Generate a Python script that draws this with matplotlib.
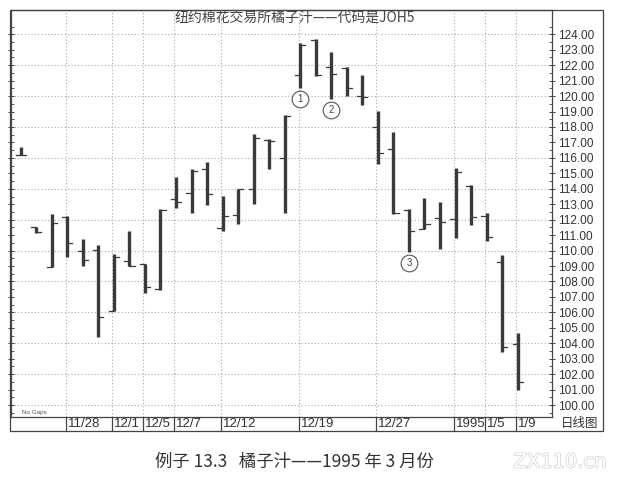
import matplotlib
matplotlib.use("Agg")
import matplotlib.pyplot as plt
from matplotlib.patches import Rectangle
from matplotlib import patheffects

# Data - one bar per trading day
opens  = [116.2, 111.5, 108.96, 112.2, 110.0, 110.04, 106.1, 109.33, 109.11, 107.5,
          113.32, 113.71, 115.26, 111.48, 112.3, 113.97, 117.16, 115.97, 121.37, 123.6,
          121.9, 121.8, 120.01, 117.98, 116.58, 112.6, 111.38, 112.09, 112.02, 114.18,
          112.24, 109.28, 103.95]
highs  = [116.73, 111.5, 112.37, 112.24, 110.75, 110.36, 109.76, 111.27, 109.11, 112.67,
          114.74, 115.28, 115.73, 113.55, 114.01, 117.55, 117.2, 118.78, 123.42, 123.7,
          122.83, 121.86, 121.37, 119.06, 117.66, 112.71, 113.39, 113.17, 115.33, 114.25,
          112.45, 109.72, 104.69]
lows   = [116.19, 111.15, 108.96, 109.57, 109.02, 104.43, 106.09, 109.0, 107.24, 107.45,
          112.74, 112.45, 112.95, 111.27, 111.7, 113.02, 115.28, 112.45, 120.5, 121.32,
          119.79, 120.01, 119.42, 115.59, 112.37, 109.93, 111.38, 110.08, 110.8, 111.66,
          110.62, 103.46, 100.98]
closes = [116.2, 111.2, 111.81, 110.47, 109.39, 105.68, 109.61, 109.0, 107.62, 112.63,
          113.13, 115.17, 113.64, 112.24, 113.97, 117.27, 117.11, 118.71, 123.31, 121.37,
          121.43, 120.5, 119.96, 116.34, 112.45, 111.27, 111.7, 111.87, 115.11, 112.16,
          110.9, 103.74, 101.48]

date_idx = [3, 6, 8, 10, 13, 18, 23, 28, 30, 32]
date_labels = ["11/28", "12/1", "12/5", "12/7", "12/12", "12/19", "12/27", "1995", "1/5", "1/9"]

marks = ["1", "2", "3"]          # circled numbers under these bars
mark_idx = [18, 20, 25]

title = "纽约棉花交易所橘子汁——代码是JOH5"
caption = "例子 13.3   橘子汁——1995 年 3 月份"

W, H = 620, 483
fig = plt.figure(figsize=(W / 100, H / 100), dpi=100)
fig.patch.set_facecolor("white")

def fx(px):
    return px / W

def fy(py):
    return 1 - py / H

narrow = ["Liberation Sans", "DejaVu Sans"]
cjk = ["Noto Sans CJK SC", "DejaVu Sans"]

# plot area: x 11..552, y 10..417 (pixels)
ax = fig.add_axes([fx(11), fy(417), fx(552 - 11), (417 - 10) / H])
ax.set_xlim(-0.625, 34.21)
ax.set_ylim(99.23, 125.57)

ink = "#3a3a3a"
grid_c = "#aaaaaa"

# grid
for v in range(100, 125, 2):
    ax.axhline(v, color=grid_c, lw=0.8, ls=(0, (1, 2)), zorder=0)
for d in date_idx:
    ax.axvline(d - 0.1, color=grid_c, lw=0.8, ls=(0, (1, 2)), zorder=0)

# OHLC bars
tk = 0.33
for i in range(len(opens)):
    ax.plot([i, i], [lows[i], highs[i]], color=ink, lw=2.4, solid_capstyle="butt", zorder=3)
    ax.plot([i - tk, i], [opens[i], opens[i]], color=ink, lw=0.9, zorder=3)
    ax.plot([i, i + tk], [closes[i], closes[i]], color=ink, lw=0.9, zorder=3)

# circled labels
for m, i in zip(marks, mark_idx):
    y = lows[i] - 0.72
    ax.plot(i, y, marker="o", ms=12, mfc="white", mec="#555555", mew=0.8, zorder=4)
    ax.text(i, y, m, ha="center", va="center", fontsize=7, color="#444444",
            family=narrow, zorder=5)

# axes / ticks
for s in ax.spines.values():
    s.set_color("#444444")
    s.set_linewidth(0.9)
ax.set_yticks(range(100, 125))
ax.set_yticks([v + 0.5 for v in range(99, 125)], minor=True)
ax.set_yticklabels(["%.2f" % v for v in range(100, 125)])
ax.tick_params(axis="y", which="major", left=True, right=True, labelleft=False,
               labelright=True, direction="inout", length=5, width=0.7,
               color="#444444", labelsize=8.5, pad=2, labelcolor="#333333")
ax.tick_params(axis="y", which="minor", left=True, right=True, direction="in",
               length=2.5, width=0.6, color="#444444")
for lab in ax.get_yticklabels():
    lab.set_family(narrow)
ax.set_xticks([])

ax.text(0.02, 0.004, "No Gaps", transform=ax.transAxes, fontsize=4.5,
        color="#555555", va="bottom", family=narrow)

# date strip below the plot
strip = -(431 - 417) / (417 - 10)
bt = ax.get_xaxis_transform()
for d, lab in zip(date_idx, date_labels):
    ax.plot([d - 0.1, d - 0.1], [0, strip], transform=bt, color="#444444",
            lw=0.9, clip_on=False)
    ax.text(d + 0.02, strip / 2, lab, transform=bt, ha="left", va="center",
            fontsize=9.5, color="#333333", family=narrow, clip_on=False)

fig.text(fx(580), fy(424), "日线图", ha="center", va="center", fontsize=9,
         color="#333333", family=cjk)

# outer frame
fig.patches.append(Rectangle((fx(10), fy(431)), fx(603 - 10), (431 - 10) / H,
                             transform=fig.transFigure, fill=False,
                             ec="#444444", lw=0.9))

fig.text(fx(295), fy(18), title, ha="center", va="center", fontsize=10,
         color="#444444", family=cjk)
fig.text(fx(294), fy(462), caption, ha="center", va="center", fontsize=12.5,
         color="#333333", family=cjk)

wm = fig.text(fx(560), fy(462), "ZX110.cn", ha="center", va="center", fontsize=14,
              color="white", family=["DejaVu Sans"])
wm.set_path_effects([patheffects.withStroke(linewidth=1.2, foreground="#d8d8d8")])

fig.savefig("out.png", dpi=100)
